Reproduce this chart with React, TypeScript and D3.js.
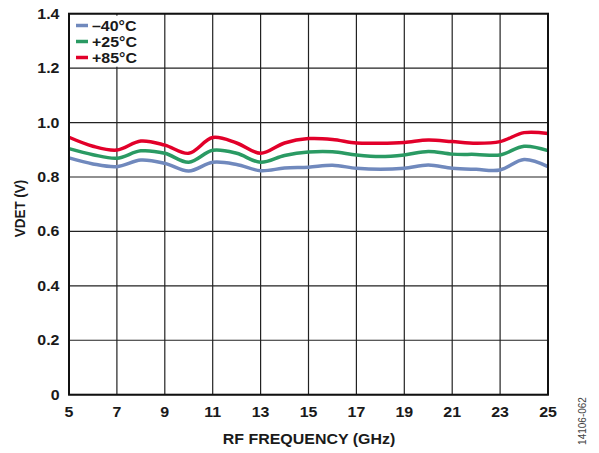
import React from "react";
import * as d3 from "d3";

const freqs = [5, 6, 7, 8, 9, 10, 11, 12, 13, 14, 15, 16, 17, 18, 19, 20, 21, 22, 23, 24, 25];
const vM40 = [0.870, 0.848, 0.838, 0.862, 0.850, 0.822, 0.854, 0.846, 0.823, 0.833, 0.836, 0.843, 0.832, 0.828, 0.832, 0.844, 0.832, 0.828, 0.826, 0.864, 0.838];
const vP25 = [0.904, 0.882, 0.869, 0.896, 0.887, 0.854, 0.898, 0.887, 0.854, 0.879, 0.892, 0.893, 0.881, 0.875, 0.881, 0.894, 0.884, 0.883, 0.881, 0.913, 0.897];
const vP85 = [0.946, 0.913, 0.899, 0.932, 0.917, 0.887, 0.945, 0.925, 0.887, 0.925, 0.941, 0.938, 0.925, 0.924, 0.927, 0.936, 0.930, 0.924, 0.930, 0.963, 0.960];
const seriesNames = ["\u201340\u00b0C", "+25\u00b0C", "+85\u00b0C"];
const seriesColors = ["#7089bd", "#2a9a63", "#e2002a"];
const xTicks = [5, 7, 9, 11, 13, 15, 17, 19, 21, 23, 25];
const yTicks = [0, 0.2, 0.4, 0.6, 0.8, 1.0, 1.2, 1.4];

export default function App() {
  const W = 599, H = 453;
  const left = 69, right = 548, top = 13.7, bottom = 394.7;
  const sx = 1.14;
  const x = d3.scaleLinear().domain([5, 25]).range([left, right]);
  const y = d3.scaleLinear().domain([0, 1.4]).range([bottom, top]);
  const all = [vM40, vP25, vP85];
  const line = d3
    .line<number>()
    .x((_, i) => x(freqs[i]))
    .y((d) => y(d))
    .curve(d3.curveCatmullRom.alpha(0.5));
  const font = "'Liberation Sans', Arial, sans-serif";
  const yFmt = (v: number) => (v === 0 ? "0" : v.toFixed(1));
  return (
    <svg
      width={W}
      height={H}
      style={{ position: "absolute", left: 0, top: 0, background: "#fff" }}
      fontFamily={font}
    >
      {xTicks.map((t) => (
        <line key={"gx" + t} x1={x(t)} x2={x(t)} y1={top} y2={bottom} stroke="#222" strokeWidth={1.2} />
      ))}
      {yTicks.map((t) => (
        <line key={"gy" + t} x1={left} x2={right} y1={y(t)} y2={y(t)} stroke="#222" strokeWidth={1.2} />
      ))}
      {all.map((s, i) => (
        <path key={"s" + i} d={line(s) || ""} fill="none" stroke={seriesColors[i]} strokeWidth={3.5} />
      ))}
      <rect x={left + 1} y={top + 2} width={76} height={51} fill="#fff" />
      {seriesNames.map((n, i) => (
        <g key={"lg" + i}>
          <line x1={76} x2={88} y1={25.5 + i * 16} y2={25.5 + i * 16} stroke={seriesColors[i]} strokeWidth={3.5} />
          <text
            transform={`translate(92, ${30.5 + i * 16}) scale(${sx},1)`}
            fontSize={14}
            fontWeight="bold"
            fill="#1a1a1a"
          >
            {n}
          </text>
        </g>
      ))}
      <rect x={left} y={top} width={right - left} height={bottom - top} fill="none" stroke="#111" strokeWidth={2} />
      {yTicks.map((t) => (
        <text
          key={"ty" + t}
          transform={`translate(59.5, ${y(t) + 5}) scale(${sx},1)`}
          textAnchor="end"
          fontSize={14}
          fontWeight="bold"
          fill="#1a1a1a"
        >
          {yFmt(t)}
        </text>
      ))}
      {xTicks.map((t) => (
        <text
          key={"tx" + t}
          transform={`translate(${x(t)}, 416.5) scale(${sx},1)`}
          textAnchor="middle"
          fontSize={14}
          fontWeight="bold"
          fill="#1a1a1a"
        >
          {t}
        </text>
      ))}
      <text
        transform={`translate(${(left + right) / 2 + 0.5}, 444) scale(${sx},1)`}
        textAnchor="middle"
        fontSize={14}
        fontWeight="bold"
        fill="#1a1a1a"
      >
        RF FREQUENCY (GHz)
      </text>
      <text
        transform={`translate(25, 208.5) scale(${sx},1) rotate(-90)`}
        textAnchor="middle"
        fontSize={13.5}
        fontWeight="bold"
        fill="#1a1a1a"
      >
        VDET (V)
      </text>
      <text
        transform={`translate(586, 421) scale(${sx},1) rotate(-90)`}
        textAnchor="middle"
        fontSize={10}
        fill="#444"
      >
        14106-062
      </text>
    </svg>
  );
}
